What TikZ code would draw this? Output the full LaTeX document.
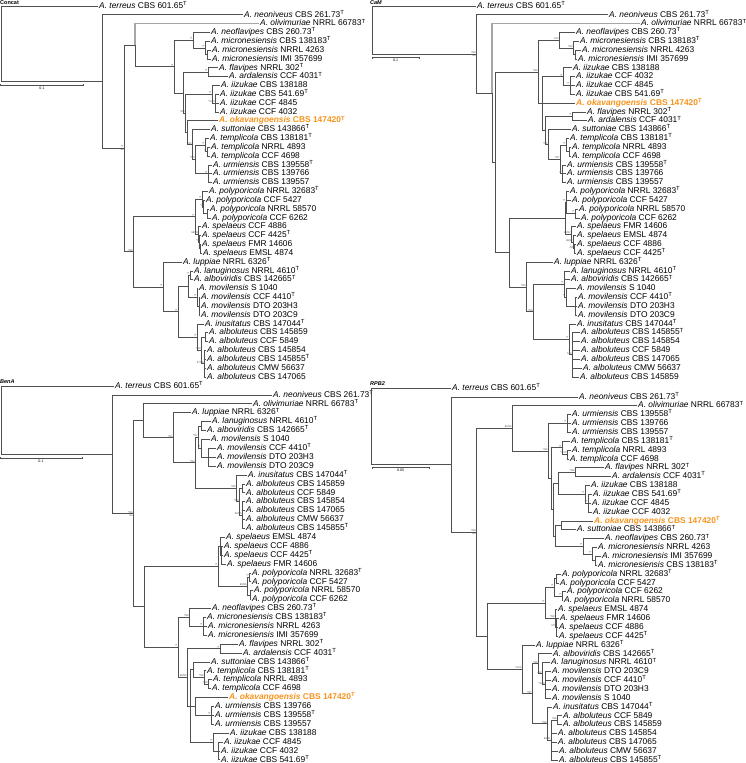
\documentclass[tikz,border=0pt]{standalone}
\usepackage{fontspec}
\setmainfont{Liberation Sans}
\definecolor{oka}{RGB}{247,148,29}
\definecolor{brc}{RGB}{80,80,80}
\newcommand\ty{\textsuperscript{T}}
\newcommand\lf[5]{\node[lfn] (#1) at ({#2-1.2},{\yo+(#3-1)*\ys}) {\textit{A. #4} #5};}
\newcommand\lfo[5]{\node[lfn,okn] (#1) at ({#2-1.2},{\yo+(#3-1)*\ys}) {\textit{A. #4} #5};}
\newcommand\nd[3]{\coordinate (#1) at (#2,{\yo+(#3-1)*\ys});}
\newcommand\kids[2]{\foreach \kk in {#2}{\draw[ln] (#1) |- (\kk);}}
\newcommand\su[2]{\node[bsv] (s-#1) at (#1) {#2};}
\newcommand\sd[2]{\node[bsb] (d-#1) at (#1) {#2};}
\begin{document}
\begin{tikzpicture}[x=1pt,y=-1pt,
  ln/.style={draw=brc,line width=0.7pt},
  thk/.style={draw=black!35,line width=1.4pt},
  lfn/.style={anchor=west,inner xsep=1.2pt,inner ysep=0pt,text height=6pt,text depth=1.6pt,font=\fontsize{8.4}{9}\selectfont},
  okn/.style={text=oka,font=\fontsize{8.4}{9}\selectfont\bfseries},
  bsv/.style={anchor=south east,inner sep=0.3pt,font=\fontsize{2.6}{3}\selectfont,text=black!70},
  bsb/.style={anchor=north east,inner sep=0.3pt,font=\fontsize{2.6}{3}\selectfont,text=black!70},
  ttl/.style={anchor=north west,inner sep=0pt,font=\fontsize{5.5}{6}\selectfont\bfseries},
  sbl/.style={anchor=north,inner sep=0pt,font=\fontsize{3.6}{4}\selectfont}]
\useasboundingbox[fill=white] (0,0) rectangle (746,763);

% ================= Concat =================
\def\yo{6}\def\ys{8.83}
\node[ttl] (tc) at (0,0) {Concat};
\lf{c1}{99}{1}{terreus}{CBS 601.65\ty}
\lf{c2}{244}{2}{neoniveus}{CBS 261.73\ty}
\lf{c3}{260}{3}{olivimuriae}{NRRL 66783\ty}
\lf{c4}{211}{4}{neoflavipes}{CBS 260.73\ty}
\lf{c5}{211}{5}{micronesiensis}{CBS 138183\ty}
\lf{c6}{212}{6}{micronesiensis}{NRRL 4263}
\lf{c7}{212}{7}{micronesiensis}{IMI 357699}
\lf{c8}{219}{8}{flavipes}{NRRL 302\ty}
\lf{c9}{229}{9}{ardalensis}{CCF 4031\ty}
\lf{c10}{221}{10}{iizukae}{CBS 138188}
\lf{c11}{220}{11}{iizukae}{CBS 541.69\ty}
\lf{c12}{220}{12}{iizukae}{CCF 4845}
\lf{c13}{220}{13}{iizukae}{CCF 4032}
\lfo{c14}{219}{14}{okavangoensis}{CBS 147420\ty}
\lf{c15}{211}{15}{suttoniae}{CBS 143866\ty}
\lf{c16}{210}{16}{templicola}{CBS 138181\ty}
\lf{c17}{211}{17}{templicola}{NRRL 4893}
\lf{c18}{211}{18}{templicola}{CCF 4698}
\lf{c19}{213}{19}{urmiensis}{CBS 139558\ty}
\lf{c20}{213}{20}{urmiensis}{CBS 139766}
\lf{c21}{213}{21}{urmiensis}{CBS 139557}
\lf{c22}{209}{22}{polyporicola}{NRRL 32683\ty}
\lf{c23}{206}{23}{polyporicola}{CCF 5427}
\lf{c24}{210}{24}{polyporicola}{NRRL 58570}
\lf{c25}{212}{25}{polyporicola}{CCF 6262}
\lf{c26}{202}{26}{spelaeus}{CCF 4886}
\lf{c27}{202}{27}{spelaeus}{CCF 4425\ty}
\lf{c28}{202}{28}{spelaeus}{FMR 14606}
\lf{c29}{203}{29}{spelaeus}{EMSL 4874}
\lf{c30}{183}{30}{luppiae}{NRRL 6326\ty}
\lf{c31}{194}{31}{lanuginosus}{NRRL 4610\ty}
\lf{c32}{194}{32}{alboviridis}{CBS 142665\ty}
\lf{c33}{199}{33}{movilensis}{S 1040}
\lf{c34}{201}{34}{movilensis}{CCF 4410\ty}
\lf{c35}{201}{35}{movilensis}{DTO 203H3}
\lf{c36}{201}{36}{movilensis}{DTO 203C9}
\lf{c37}{205}{37}{inusitatus}{CBS 147044\ty}
\lf{c38}{209}{38}{alboluteus}{CBS 145859}
\lf{c39}{209}{39}{alboluteus}{CCF 5849}
\lf{c40}{207}{40}{alboluteus}{CBS 145854}
\lf{c41}{207}{41}{alboluteus}{CBS 145855\ty}
\lf{c42}{207}{42}{alboluteus}{CMW 56637}
\lf{c43}{207}{43}{alboluteus}{CBS 147065}
\nd{cM2}{207}{6.5}\nd{cM}{205}{5.75}\nd{cF}{193}{4.875}
\nd{cFA}{208}{8.5}\nd{cIZ2}{215}{12}\nd{cIZ}{212}{11}
\nd{cT2}{207}{17.5}\nd{cT}{205}{16.75}\nd{cU}{208}{20}\nd{cTU}{195}{18.375}\nd{cSTU}{192}{16.69}
\nd{cK}{187}{15.34}\nd{cH}{185}{13.17}\nd{cG}{183}{10.84}\nd{cE}{174}{7.86}\nd{cC}{135}{5.43}
\nd{cP3}{207.5}{24.5}\nd{cP2}{203.5}{23.75}\nd{cPO}{202}{22.875}
\nd{cS3}{200.3}{28.5}\nd{cS2}{199.5}{27.75}\nd{cSP}{198.5}{26.875}\nd{cPS}{195}{24.875}
\nd{cLA}{190}{31.5}\nd{cMV2}{199}{35}\nd{cMV}{197}{34}\nd{cLM}{188}{32.75}
\nd{cAL1}{205}{38.5}\nd{cAL2}{204}{41.5}\nd{cAL}{201}{40}\nd{cIN}{197}{38.5}
\nd{cMI}{178}{35.625}\nd{cL}{163}{32.81}\nd{cD}{133}{28.84}\nd{cB}{124}{17.14}\nd{cA}{102}{9.57}\nd{cR}{1}{5.29}
\kids{cR}{c1,cA}\kids{cA}{c2,cB}\kids{cB}{cC,cD}\kids{cC}{cE}\draw[thk] (cC) |- (c3);
\kids{cE}{cF,cG}\kids{cF}{c4,cM}\kids{cM}{c5,cM2}\kids{cM2}{c6,c7}
\kids{cG}{cFA,cH}\kids{cFA}{c8,c9}\kids{cH}{cIZ,cK}\kids{cIZ}{c10,cIZ2}\kids{cIZ2}{c11,c12,c13}
\kids{cK}{c14,cSTU}\kids{cSTU}{c15,cTU}\kids{cTU}{cT,cU}\kids{cT}{c16,cT2}\kids{cT2}{c17,c18}\kids{cU}{c19,c20,c21}
\kids{cD}{cPS,cL}\kids{cPS}{cPO,cSP}\kids{cPO}{c22,cP2}\kids{cP2}{c23,cP3}\kids{cP3}{c24,c25}
\kids{cSP}{c26,cS2}\kids{cS2}{c27,cS3}\kids{cS3}{c28,c29}
\kids{cL}{c30,cMI}\kids{cMI}{cLM,cIN}\kids{cLM}{cLA,cMV}\kids{cLA}{c31,c32}\kids{cMV}{c33,cMV2}\kids{cMV2}{c34,c35,c36}
\kids{cIN}{c37,cAL}\kids{cAL}{cAL1,cAL2}\kids{cAL1}{c38,c39}\kids{cAL2}{c40,c41,c42,c43}
\su{cB}{*/*}\sd{cB}{84}\su{cE}{*/*}\su{cF}{*/*}\su{cM}{*/*}\su{cFA}{*/*}\su{cIZ}{*/*}\su{cIZ2}{*/100}
\su{cH}{*/93}\su{cSTU}{*/94}\su{cTU}{*/93}\su{cT}{*/*}\su{cT2}{*/*}\su{cU}{*/*}\su{cPO}{*/*}\su{cP2}{*/*}
\su{cPS}{*/*}\su{cSP}{96/95}\su{cS2}{*/*}\su{cD}{*/99}\su{cL}{*/*}\su{cLA}{*/*}\su{cMV}{*/*}\su{cMI}{*/*}
\su{cIN}{*/*}\su{cAL}{*/90}\su{cAL2}{97/96}
\coordinate (cs1) at (0.5,85);\coordinate (cs2) at (83,85);
\draw[ln] (cs1) -- (cs2);\draw[ln] (cs1) ++(0,-1) -- ++(0,2);\draw[ln] (cs2) ++(0,-1) -- ++(0,2);
\node[sbl] (csl) at (42,86.5) {0.1};

% ================= CaM =================
\node[ttl,font=\fontsize{5.5}{6}\selectfont\bfseries\itshape] (tm) at (370,0) {CaM};
\lf{m1}{477}{1}{terreus}{CBS 601.65\ty}
\lf{m2}{609}{2}{neoniveus}{CBS 261.73\ty}
\lf{m3}{641}{3}{olivimuriae}{NRRL 66783\ty}
\lf{m4}{576}{4}{neoflavipes}{CBS 260.73\ty}
\lf{m5}{580}{5}{micronesiensis}{CBS 138183\ty}
\lf{m6}{582}{6}{micronesiensis}{NRRL 4263}
\lf{m7}{578}{7}{micronesiensis}{IMI 357699}
\lf{m8}{573}{8}{iizukae}{CBS 138188}
\lf{m9}{576}{9}{iizukae}{CCF 4032}
\lf{m10}{576}{10}{iizukae}{CCF 4845}
\lf{m11}{576}{11}{iizukae}{CBS 541.69\ty}
\lfo{m12}{576}{12}{okavangoensis}{CBS 147420\ty}
\lf{m13}{587}{13}{flavipes}{NRRL 302\ty}
\lf{m14}{588}{14}{ardalensis}{CCF 4031\ty}
\lf{m15}{572}{15}{suttoniae}{CBS 143866\ty}
\lf{m16}{570}{16}{templicola}{CBS 138181\ty}
\lf{m17}{572}{17}{templicola}{NRRL 4893}
\lf{m18}{572}{18}{templicola}{CCF 4698}
\lf{m19}{567}{19}{urmiensis}{CBS 139558\ty}
\lf{m20}{567}{20}{urmiensis}{CBS 139766}
\lf{m21}{567}{21}{urmiensis}{CBS 139557}
\lf{m22}{570}{22}{polyporicola}{NRRL 32683\ty}
\lf{m23}{572}{23}{polyporicola}{CCF 5427}
\lf{m24}{579}{24}{polyporicola}{NRRL 58570}
\lf{m25}{581}{25}{polyporicola}{CCF 6262}
\lf{m26}{577}{26}{spelaeus}{FMR 14606}
\lf{m27}{577}{27}{spelaeus}{EMSL 4874}
\lf{m28}{577}{28}{spelaeus}{CCF 4886}
\lf{m29}{577}{29}{spelaeus}{CCF 4425\ty}
\lf{m30}{554}{30}{luppiae}{NRRL 6326\ty}
\lf{m31}{571}{31}{lanuginosus}{NRRL 4610\ty}
\lf{m32}{571}{32}{alboviridis}{CBS 142665\ty}
\lf{m33}{577}{33}{movilensis}{S 1040}
\lf{m34}{578}{34}{movilensis}{CCF 4410\ty}
\lf{m35}{578}{35}{movilensis}{DTO 203H3}
\lf{m36}{578}{36}{movilensis}{DTO 203C9}
\lf{m37}{577}{37}{inusitatus}{CBS 147044\ty}
\lf{m38}{581}{38}{alboluteus}{CBS 145855\ty}
\lf{m39}{581}{39}{alboluteus}{CBS 145854}
\lf{m40}{581}{40}{alboluteus}{CCF 5849}
\lf{m41}{581}{41}{alboluteus}{CBS 147065}
\lf{m42}{583}{42}{alboluteus}{CMW 56637}
\lf{m43}{580}{43}{alboluteus}{CBS 145859}
\nd{mM2}{575}{6.5}\nd{mM}{573}{5.75}\nd{mNM}{559}{4.875}
\nd{mIZ2}{570}{10}\nd{mIZ}{563}{9}\nd{mFA}{572}{13.5}
\nd{mT2}{569}{17.5}\nd{mT}{566}{16.75}\nd{mU}{562}{20}\nd{mTU}{560}{18.375}\nd{mSTU}{548}{16.69}
\nd{mH}{545}{15.09}\nd{mG}{542}{12.05}\nd{mFL}{538}{8.46}
\nd{mP2}{575}{24.5}\nd{mP}{566}{23.25}\nd{mS3}{574}{28.5}\nd{mS2}{573}{27.75}\nd{mSP}{571}{26.875}\nd{mPS}{565}{25.06}
\nd{mMV2}{575.5}{35}\nd{mMV}{566}{34}\nd{mLM}{564}{32.5}\nd{mAL}{572}{40.5}\nd{mIN}{569}{38.75}
\nd{mMI}{533}{35.625}\nd{mL}{526}{32.81}\nd{mD}{509}{28.94}\nd{mC}{495}{18.7}\nd{mB}{492}{10.85}\nd{mA}{476}{6.425}\nd{mR}{372}{3.71}
\kids{mR}{m1,mA}\kids{mA}{m2,mB}\kids{mB}{mC}\draw[thk] (mB) |- (m3);
\kids{mC}{mFL,mD}\kids{mFL}{mNM,mG}\kids{mNM}{m4,mM}\kids{mM}{m5,mM2}\kids{mM2}{m6,m7}
\kids{mG}{mIZ,m12,mH}\kids{mIZ}{m8,mIZ2}\kids{mIZ2}{m9,m10,m11}\kids{mH}{mFA,mSTU}\kids{mFA}{m13,m14}
\kids{mSTU}{m15,mTU}\kids{mTU}{mT,mU}\kids{mT}{m16,mT2}\kids{mT2}{m17,m18}\kids{mU}{m19,m20,m21}
\kids{mD}{mPS,mL}\kids{mPS}{mP,mSP}\kids{mP}{m22,m23,mP2}\kids{mP2}{m24,m25}\kids{mSP}{m26,mS2}\kids{mS2}{m27,mS3}\kids{mS3}{m28,m29}
\kids{mL}{m30,mMI}\kids{mMI}{mLM,mIN}\kids{mLM}{m31,m32,mMV}\kids{mMV}{m33,mMV2}\kids{mMV2}{m34,m35,m36}
\kids{mIN}{m37,mAL}\kids{mAL}{m38,m39,m40,m41,m42,m43}
\su{mA}{*/89}\sd{mA}{84}\su{mFL}{*/99}\su{mNM}{100}\su{mM}{*/99}\su{mIZ}{*/*}\su{mIZ2}{*/*}\su{mFA}{*/*}
\su{mSTU}{*/92}\su{mTU}{*/97}\su{mT}{*/*}\su{mU}{*/*}\su{mP}{*/*}\su{mP2}{*/*}\su{mSP}{99/93}\su{mS2}{99/92}
\su{mS3}{-/92}\su{mL}{*/93}\su{mMI}{*/99}\su{mLM}{*/*}\su{mMV}{*/*}\su{mIN}{*/*}\su{mAL}{100}
\coordinate (ms1) at (372,57.5);\coordinate (ms2) at (419,57.5);
\draw[ln] (ms1) -- (ms2);\draw[ln] (ms1) ++(0,-1) -- ++(0,2);\draw[ln] (ms2) ++(0,-1) -- ++(0,2);
\node[sbl] (msl) at (395.5,59) {0.1};

% ================= BenA =================
\def\yo{386}\def\ys{8.9}
\node[ttl,font=\fontsize{5.5}{6}\selectfont\bfseries\itshape] (tb) at (0,380) {BenA};
\lf{b1}{115}{1}{terreus}{CBS 601.65\ty}
\lf{b2}{273}{2}{neoniveus}{CBS 261.73\ty}
\lf{b3}{253}{3}{olivimuriae}{NRRL 66783\ty}
\lf{b4}{192}{4}{luppiae}{NRRL 6326\ty}
\lf{b5}{212}{5}{lanuginosus}{NRRL 4610\ty}
\lf{b6}{207}{6}{alboviridis}{CBS 142665\ty}
\lf{b7}{211}{7}{movilensis}{S 1040}
\lf{b8}{217}{8}{movilensis}{CCF 4410\ty}
\lf{b9}{217}{9}{movilensis}{DTO 203H3}
\lf{b10}{217}{10}{movilensis}{DTO 203C9}
\lf{b11}{248}{11}{inusitatus}{CBS 147044\ty}
\lf{b12}{246}{12}{alboluteus}{CBS 145859}
\lf{b13}{246}{13}{alboluteus}{CCF 5849}
\lf{b14}{246}{14}{alboluteus}{CBS 145854}
\lf{b15}{246}{15}{alboluteus}{CBS 147065}
\lf{b16}{246}{16}{alboluteus}{CMW 56637}
\lf{b17}{246}{17}{alboluteus}{CBS 145855\ty}
\lf{b18}{226}{18}{spelaeus}{EMSL 4874}
\lf{b19}{224}{19}{spelaeus}{CCF 4886}
\lf{b20}{224}{20}{spelaeus}{CCF 4425\ty}
\lf{b21}{227}{21}{spelaeus}{FMR 14606}
\lf{b22}{252}{22}{polyporicola}{NRRL 32683\ty}
\lf{b23}{252}{23}{polyporicola}{CCF 5427}
\lf{b24}{254}{24}{polyporicola}{NRRL 58570}
\lf{b25}{252}{25}{polyporicola}{CCF 6262}
\lf{b26}{212}{26}{neoflavipes}{CBS 260.73\ty}
\lf{b27}{207}{27}{micronesiensis}{CBS 138183\ty}
\lf{b28}{208}{28}{micronesiensis}{NRRL 4263}
\lf{b29}{208}{29}{micronesiensis}{IMI 357699}
\lf{b30}{239}{30}{flavipes}{NRRL 302\ty}
\lf{b31}{243}{31}{ardalensis}{CCF 4031\ty}
\lf{b32}{211}{32}{suttoniae}{CBS 143866\ty}
\lf{b33}{207}{33}{templicola}{CBS 138181\ty}
\lf{b34}{213}{34}{templicola}{NRRL 4893}
\lf{b35}{212}{35}{templicola}{CCF 4698}
\lfo{b36}{229}{36}{okavangoensis}{CBS 147420\ty}
\lf{b37}{215}{37}{urmiensis}{CBS 139766}
\lf{b38}{215}{38}{urmiensis}{CBS 139558\ty}
\lf{b39}{215}{39}{urmiensis}{CBS 139557}
\lf{b40}{230}{40}{iizukae}{CBS 138188}
\lf{b41}{224}{41}{iizukae}{CCF 4845}
\lf{b42}{221}{42}{iizukae}{CCF 4032}
\lf{b43}{221}{43}{iizukae}{CBS 541.69\ty}
\nd{bLA}{201}{5.5}\nd{bMV2}{208}{9}\nd{bMV}{201}{8}\nd{bLM}{198}{6.75}
\nd{bAL1}{242}{12.5}\nd{bAL2}{242}{15.5}\nd{bAL}{239}{14}\nd{bIN}{236}{12.5}
\nd{bMI}{195}{9.625}\nd{bLI}{173}{6.81}\nd{bC}{143}{4.905}
\nd{bS2}{221.5}{20}\nd{bSP}{220}{19}\nd{bP1}{249.5}{22.5}\nd{bP2}{250}{24.5}\nd{bPO}{247}{23.5}\nd{bSPO}{218}{21.25}
\nd{bM}{203}{28}\nd{bNM}{189}{27}\nd{bFA}{220}{30.5}
\nd{bT2}{208}{34.5}\nd{bT}{204}{33.75}\nd{bST}{193}{32.875}\nd{bU}{211}{38}\nd{bOK}{195}{37}
\nd{bIZ2}{218.5}{42}\nd{bIZ}{213}{41}\nd{bH}{190}{36.94}\nd{bG}{187}{33.72}\nd{bFL}{178}{30.36}
\nd{bD}{144}{25.8}\nd{bB}{133}{15.35}\nd{bA}{112}{8.675}\nd{bR}{1}{4.84}
\kids{bR}{b1,bA}\kids{bA}{b2,bB}\kids{bB}{bC,bD}\kids{bC}{b3,bLI}\kids{bLI}{b4,bMI}\kids{bMI}{bLM,bIN}
\kids{bLM}{bLA,bMV}\kids{bLA}{b5,b6}\kids{bMV}{b7,bMV2}\kids{bMV2}{b8,b9,b10}
\kids{bIN}{b11,bAL}\kids{bAL}{bAL1,bAL2}\kids{bAL1}{b12,b13}\kids{bAL2}{b14,b15,b16,b17}
\kids{bD}{bSPO,bFL}\kids{bSPO}{bSP,bPO}\kids{bSP}{b18,bS2}\kids{bS2}{b19,b20,b21}\kids{bPO}{bP1,bP2}\kids{bP1}{b22,b23}\kids{bP2}{b24,b25}
\kids{bFL}{bNM,bG}\kids{bNM}{b26,bM}\kids{bM}{b27,b28,b29}\kids{bG}{bFA,bH}\kids{bFA}{b30,b31}
\kids{bH}{bST,bOK,bIZ}\kids{bST}{b32,bT}\kids{bT}{b33,bT2}\kids{bT2}{b34,b35}\kids{bOK}{b36,bU}\kids{bU}{b37,b38,b39}
\kids{bIZ}{b40,bIZ2}\kids{bIZ2}{b41,b42,b43}
\su{bB}{*/96}\sd{bB}{84}\su{bLI}{*/94}\su{bMI}{*/96}\su{bLM}{*/97}\su{bMV}{*/*}\su{bIN}{*/99}\su{bAL}{*/90}
\su{bAL2}{96/95}\su{bSPO}{*/*}\su{bPO}{99/96}\su{bP1}{*/*}\su{bFL}{*/*}\su{bNM}{*/99}\su{bM}{*/*}\su{bFA}{*/*}
\su{bG}{98/89}\su{bT}{*/98}\su{bT2}{*/99}\su{bU}{*/*}\su{bIZ}{*/*}
\coordinate (bs1) at (0.5,458);\coordinate (bs2) at (82,458);
\draw[ln] (bs1) -- (bs2);\draw[ln] (bs1) ++(0,-1) -- ++(0,2);\draw[ln] (bs2) ++(0,-1) -- ++(0,2);
\node[sbl] (bsl) at (41,459.5) {0.1};

% ================= RPB2 =================
\def\yo{388}\def\ys{8.86}
\node[ttl,font=\fontsize{5.5}{6}\selectfont\bfseries\itshape] (tr) at (370,381) {RPB2};
\lf{r1}{452}{1}{terreus}{CBS 601.65\ty}
\lf{r2}{579}{2}{neoniveus}{CBS 261.73\ty}
\lf{r3}{638}{3}{olivimuriae}{NRRL 66783\ty}
\lf{r4}{572}{4}{urmiensis}{CBS 139558\ty}
\lf{r5}{572}{5}{urmiensis}{CBS 139766}
\lf{r6}{572}{6}{urmiensis}{CBS 139557}
\lf{r7}{571}{7}{templicola}{CBS 138181\ty}
\lf{r8}{572}{8}{templicola}{NRRL 4893}
\lf{r9}{570}{9}{templicola}{CCF 4698}
\lf{r10}{605}{10}{flavipes}{NRRL 302\ty}
\lf{r11}{612}{11}{ardalensis}{CCF 4031\ty}
\lf{r12}{591}{12}{iizukae}{CBS 138188}
\lf{r13}{593}{13}{iizukae}{CBS 541.69\ty}
\lf{r14}{592}{14}{iizukae}{CCF 4845}
\lf{r15}{593}{15}{iizukae}{CCF 4032}
\lfo{r16}{594}{16}{okavangoensis}{CBS 147420\ty}
\lf{r17}{577}{17}{suttoniae}{CBS 143866\ty}
\lf{r18}{605}{18}{neoflavipes}{CBS 260.73\ty}
\lf{r19}{598}{19}{micronesiensis}{NRRL 4263}
\lf{r20}{602}{20}{micronesiensis}{IMI 357699}
\lf{r21}{598}{21}{micronesiensis}{CBS 138183\ty}
\lf{r22}{562}{22}{polyporicola}{NRRL 32683\ty}
\lf{r23}{560}{23}{polyporicola}{CCF 5427}
\lf{r24}{567}{24}{polyporicola}{CCF 6262}
\lf{r25}{564}{25}{polyporicola}{NRRL 58570}
\lf{r26}{558}{26}{spelaeus}{EMSL 4874}
\lf{r27}{560}{27}{spelaeus}{FMR 14606}
\lf{r28}{559}{28}{spelaeus}{CCF 4886}
\lf{r29}{559}{29}{spelaeus}{CCF 4425\ty}
\lf{r30}{536}{30}{luppiae}{NRRL 6326\ty}
\lf{r31}{553}{31}{alboviridis}{CBS 142665\ty}
\lf{r32}{551}{32}{lanuginosus}{NRRL 4610\ty}
\lf{r33}{552}{33}{movilensis}{DTO 203C9}
\lf{r34}{552}{34}{movilensis}{CCF 4410\ty}
\lf{r35}{552}{35}{movilensis}{DTO 203H3}
\lf{r36}{552}{36}{movilensis}{S 1040}
\lf{r37}{553}{37}{inusitatus}{CBS 147044\ty}
\lf{r38}{563}{38}{alboluteus}{CCF 5849}
\lf{r39}{563}{39}{alboluteus}{CBS 145859}
\lf{r40}{558}{40}{alboluteus}{CBS 145854}
\lf{r41}{558}{41}{alboluteus}{CBS 147065}
\lf{r42}{559}{42}{alboluteus}{CMW 56637}
\lf{r43}{559}{43}{alboluteus}{CBS 145855\ty}
\nd{rU}{567}{5}\nd{rT2}{567}{8.5}\nd{rT}{562}{7.75}\nd{rFA}{575}{10.5}\nd{rIZ2}{588}{14}\nd{rIZ}{585}{13}
\nd{rFI}{558}{11.75}\nd{rOS}{561}{16.5}\nd{rM2}{595}{20.5}\nd{rM}{592}{19.75}\nd{rNM}{583}{18.875}
\nd{rON}{555}{17.69}\nd{rG}{553}{14.72}\nd{rE2}{551}{11.235}\nd{rE}{548}{8.12}\nd{rC}{512}{5.56}
\nd{rP1}{556}{22.5}\nd{rP2}{562}{24.5}\nd{rPO}{554}{23.5}\nd{rS2}{556.5}{28}\nd{rSP}{555}{27}\nd{rPS}{545}{25.25}
\nd{rMV}{545}{34.5}\nd{rX}{542}{33.25}\nd{rLM}{538}{32.125}\nd{rAL1}{557}{38.5}\nd{rAL}{551}{40.75}\nd{rIN}{547}{38.875}
\nd{rMI}{532}{35.5}\nd{rL}{522}{32.75}\nd{rD}{487}{29}\nd{rB}{476}{17.28}\nd{rA}{451}{9.64}\nd{rR}{371}{5.32}
\kids{rR}{r1,rA}\kids{rA}{r2,rB}\kids{rB}{rC,rD}\kids{rC}{r3,rE}\kids{rE}{rU,rE2}\kids{rU}{r4,r5,r6}
\kids{rE2}{rT,rG}\kids{rT}{r7,rT2}\kids{rT2}{r8,r9}\kids{rG}{rFI,rON}\kids{rFI}{rFA,rIZ}\kids{rFA}{r10,r11}
\kids{rIZ}{r12,rIZ2}\kids{rIZ2}{r13,r14,r15}\kids{rON}{rOS,rNM}\kids{rOS}{r16,r17}\kids{rNM}{r18,rM}\kids{rM}{r19,rM2}\kids{rM2}{r20,r21}
\kids{rD}{rPS,rL}\kids{rPS}{rPO,rSP}\kids{rPO}{rP1,rP2}\kids{rP1}{r22,r23}\kids{rP2}{r24,r25}\kids{rSP}{r26,rS2}\kids{rS2}{r27,r28,r29}
\kids{rL}{r30,rMI}\kids{rMI}{rLM,rIN}\kids{rLM}{r31,rX}\kids{rX}{r32,rMV}\kids{rMV}{r33,r34,r35,r36}
\kids{rIN}{r37,rAL}\kids{rAL}{rAL1,r40,r41,r42,r43}\kids{rAL1}{r38,r39}
\su{rB}{*/99}\sd{rB}{84}\su{rC}{99/93}\su{rE}{*/93}\su{rU}{*/*}\su{rT}{*/*}\su{rT2}{*/100}\su{rFA}{*/99}
\su{rIZ}{*/*}\su{rIZ2}{*/*}\su{rNM}{*/*}\su{rM}{*/*}\su{rPS}{*/*}\su{rPO}{*/*}\su{rP2}{*/*}\su{rSP}{*/90}
\su{rS2}{97/*}\su{rL}{*/100}\su{rMI}{*/97}\su{rLM}{*/99}\su{rX}{-/93}\su{rMV}{*/100}\su{rIN}{*/99}\su{rAL}{99/91}\su{rAL1}{*/98}
\coordinate (rs1) at (372,467.5);\coordinate (rs2) at (429,467.5);
\draw[ln] (rs1) -- (rs2);\draw[ln] (rs1) ++(0,-1) -- ++(0,2);\draw[ln] (rs2) ++(0,-1) -- ++(0,2);
\node[sbl] (rsl) at (400.5,469) {0.05};
\end{tikzpicture}
\end{document}
